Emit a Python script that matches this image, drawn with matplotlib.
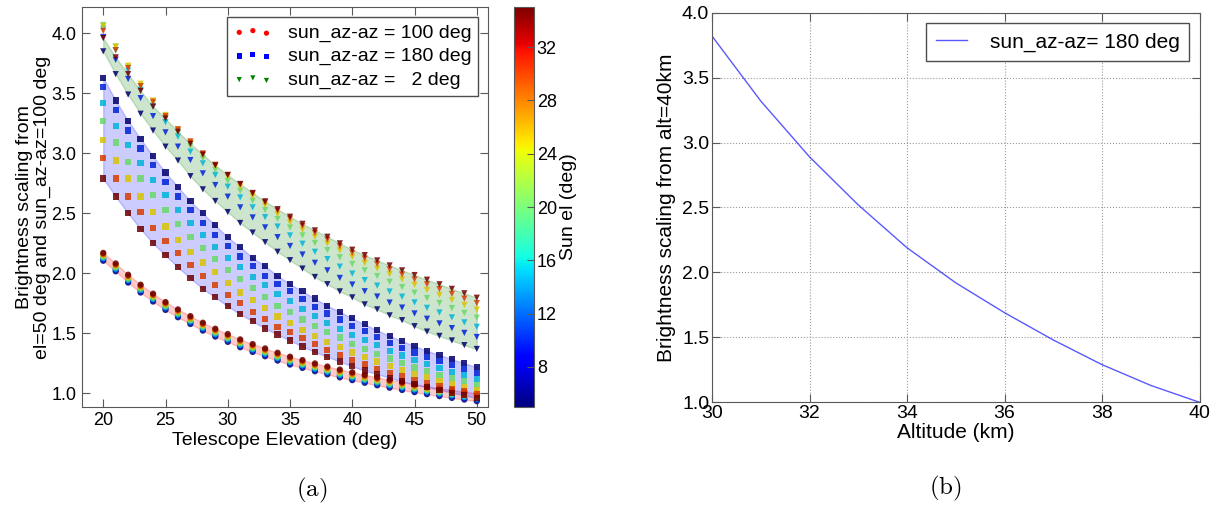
import numpy as np
import matplotlib
matplotlib.use('Agg')
import matplotlib.pyplot as plt
from matplotlib.cm import ScalarMappable
from matplotlib.colors import Normalize, ListedColormap

plt.rcParams['font.family'] = ['Liberation Sans', 'DejaVu Sans']
plt.rcParams['mathtext.fontset'] = 'cm'

# ---------------- data ----------------
tel_el = list(range(20, 51))
sun_el = [5, 10, 15, 20, 25, 30, 35]

# sun_az-az = 100 deg (circles)
az100_el05 = [2.105, 2.017, 1.923, 1.840, 1.765, 1.695, 1.634, 1.578, 1.523, 1.473, 1.429, 1.384, 1.345, 1.309, 1.273, 1.240, 1.212, 1.184, 1.158, 1.133, 1.110, 1.088, 1.067, 1.047, 1.028, 1.010, 0.993, 0.977, 0.962, 0.948, 0.935]
az100_el10 = [2.116, 2.028, 1.934, 1.851, 1.776, 1.706, 1.645, 1.589, 1.534, 1.484, 1.440, 1.395, 1.356, 1.320, 1.284, 1.251, 1.223, 1.195, 1.169, 1.144, 1.121, 1.099, 1.078, 1.058, 1.039, 1.021, 1.004, 0.988, 0.973, 0.959, 0.946]
az100_el15 = [2.127, 2.039, 1.945, 1.862, 1.787, 1.717, 1.656, 1.600, 1.545, 1.495, 1.451, 1.406, 1.367, 1.331, 1.295, 1.262, 1.234, 1.206, 1.180, 1.155, 1.132, 1.110, 1.089, 1.069, 1.050, 1.032, 1.015, 0.999, 0.984, 0.970, 0.957]
az100_el20 = [2.138, 2.050, 1.956, 1.873, 1.798, 1.728, 1.667, 1.611, 1.556, 1.506, 1.462, 1.417, 1.378, 1.342, 1.306, 1.273, 1.245, 1.217, 1.191, 1.166, 1.143, 1.121, 1.100, 1.080, 1.061, 1.043, 1.026, 1.010, 0.995, 0.981, 0.968]
az100_el25 = [2.149, 2.061, 1.967, 1.884, 1.809, 1.739, 1.678, 1.622, 1.567, 1.517, 1.473, 1.428, 1.389, 1.353, 1.317, 1.284, 1.256, 1.228, 1.202, 1.177, 1.154, 1.132, 1.111, 1.091, 1.072, 1.054, 1.037, 1.021, 1.006, 0.992, 0.979]
az100_el30 = [2.160, 2.072, 1.978, 1.895, 1.820, 1.750, 1.689, 1.633, 1.578, 1.528, 1.484, 1.439, 1.400, 1.364, 1.328, 1.295, 1.267, 1.239, 1.213, 1.188, 1.165, 1.143, 1.122, 1.102, 1.083, 1.065, 1.048, 1.032, 1.017, 1.003, 0.990]
az100_el35 = [2.171, 2.083, 1.989, 1.906, 1.831, 1.761, 1.700, 1.644, 1.589, 1.539, 1.495, 1.450, 1.411, 1.375, 1.339, 1.306, 1.278, 1.250, 1.224, 1.199, 1.176, 1.154, 1.133, 1.113, 1.094, 1.076, 1.059, 1.043, 1.028, 1.014, 1.001]

# sun_az-az = 180 deg (squares)
az180_el05 = [3.63, 3.44, 3.27, 3.12, 2.975, 2.84, 2.72, 2.60, 2.50, 2.40, 2.30, 2.22, 2.13, 2.06, 1.98, 1.91, 1.85, 1.79, 1.73, 1.68, 1.625, 1.575, 1.525, 1.48, 1.435, 1.395, 1.355, 1.32, 1.285, 1.25, 1.22]
az180_el10 = [3.55, 3.36, 3.19, 3.04, 2.90, 2.76, 2.64, 2.525, 2.42, 2.32, 2.23, 2.14, 2.06, 1.98, 1.91, 1.855, 1.785, 1.72, 1.665, 1.615, 1.56, 1.52, 1.47, 1.42, 1.38, 1.34, 1.305, 1.27, 1.235, 1.205, 1.17]
az180_el15 = [3.42, 3.23, 3.07, 2.92, 2.78, 2.65, 2.53, 2.42, 2.32, 2.22, 2.13, 2.05, 1.97, 1.90, 1.825, 1.77, 1.70, 1.645, 1.585, 1.535, 1.485, 1.445, 1.40, 1.355, 1.315, 1.28, 1.245, 1.21, 1.18, 1.15, 1.12]
az180_el20 = [3.27, 3.09, 2.93, 2.79, 2.65, 2.525, 2.41, 2.30, 2.21, 2.12, 2.03, 1.95, 1.875, 1.80, 1.73, 1.675, 1.615, 1.56, 1.51, 1.465, 1.41, 1.37, 1.33, 1.29, 1.255, 1.215, 1.185, 1.155, 1.125, 1.10, 1.07]
az180_el25 = [3.11, 2.94, 2.79, 2.64, 2.51, 2.39, 2.28, 2.18, 2.09, 2.01, 1.92, 1.84, 1.775, 1.71, 1.64, 1.585, 1.53, 1.48, 1.43, 1.385, 1.34, 1.305, 1.265, 1.23, 1.195, 1.16, 1.135, 1.105, 1.08, 1.055, 1.025]
az180_el30 = [2.96, 2.79, 2.64, 2.51, 2.38, 2.27, 2.17, 2.07, 1.98, 1.90, 1.82, 1.75, 1.68, 1.62, 1.55, 1.51, 1.46, 1.41, 1.36, 1.32, 1.275, 1.24, 1.205, 1.17, 1.14, 1.11, 1.085, 1.06, 1.035, 1.015, 0.99]
az180_el35 = [2.79, 2.64, 2.50, 2.37, 2.25, 2.15, 2.05, 1.96, 1.87, 1.80, 1.725, 1.66, 1.60, 1.54, 1.49, 1.44, 1.39, 1.345, 1.305, 1.265, 1.225, 1.19, 1.16, 1.13, 1.10, 1.075, 1.05, 1.03, 1.005, 0.985, 0.96]

# sun_az-az = 2 deg (triangles)
az002_el05 = [3.85, 3.66, 3.49, 3.33, 3.19, 3.056, 2.94, 2.81, 2.70, 2.603, 2.511, 2.42, 2.34, 2.26, 2.18, 2.11, 2.04, 1.97, 1.91, 1.85, 1.80, 1.742, 1.70, 1.65, 1.61, 1.56, 1.515, 1.479, 1.441, 1.402, 1.37]
az002_el10 = [3.97, 3.78, 3.62, 3.46, 3.31, 3.175, 3.056, 2.944, 2.833, 2.736, 2.639, 2.55, 2.466, 2.383, 2.302, 2.228, 2.157, 2.088, 2.025, 1.962, 1.907, 1.851, 1.807, 1.757, 1.715, 1.666, 1.622, 1.583, 1.544, 1.504, 1.47]
az002_el15 = [4.04, 3.86, 3.69, 3.53, 3.39, 3.26, 3.14, 3.014, 2.917, 2.82, 2.722, 2.633, 2.55, 2.469, 2.39, 2.316, 2.247, 2.18, 2.119, 2.056, 1.998, 1.944, 1.898, 1.849, 1.806, 1.758, 1.713, 1.674, 1.633, 1.592, 1.555]
az002_el20 = [4.07, 3.89, 3.72, 3.56, 3.42, 3.30, 3.17, 3.06, 2.958, 2.861, 2.77, 2.687, 2.605, 2.527, 2.453, 2.382, 2.316, 2.253, 2.194, 2.134, 2.078, 2.025, 1.978, 1.93, 1.886, 1.839, 1.794, 1.753, 1.711, 1.67, 1.631]
az002_el25 = [4.06, 3.89, 3.73, 3.58, 3.44, 3.32, 3.20, 3.09, 2.986, 2.889, 2.803, 2.722, 2.642, 2.566, 2.494, 2.425, 2.363, 2.304, 2.249, 2.192, 2.137, 2.087, 2.04, 1.994, 1.95, 1.905, 1.861, 1.82, 1.778, 1.737, 1.698]
az002_el30 = [4.02, 3.86, 3.71, 3.56, 3.43, 3.31, 3.20, 3.10, 3.00, 2.905, 2.82, 2.742, 2.664, 2.591, 2.522, 2.456, 2.395, 2.337, 2.282, 2.226, 2.171, 2.124, 2.078, 2.034, 1.991, 1.95, 1.909, 1.869, 1.829, 1.79, 1.752]
az002_el35 = [3.96, 3.80, 3.66, 3.52, 3.39, 3.29, 3.18, 3.08, 2.99, 2.90, 2.82, 2.745, 2.67, 2.60, 2.535, 2.472, 2.413, 2.358, 2.305, 2.25, 2.197, 2.152, 2.108, 2.066, 2.025, 1.986, 1.947, 1.909, 1.871, 1.834, 1.797]

series_labels = ['sun_az-az = 100 deg', 'sun_az-az = 180 deg', 'sun_az-az =   2 deg']

# right panel
altitude = [30, 31, 32, 33, 34, 35, 36, 37, 38, 39, 40]
alt_scaling = [3.82, 3.32, 2.89, 2.52, 2.19, 1.92, 1.69, 1.48, 1.29, 1.13, 1.00]
right_label = 'sun_az-az= 180 deg'

# ---------------- figure ----------------
W, H = 1221, 508
fig = plt.figure(figsize=(W / 100, H / 100), dpi=100)


def px_axes(l, t, r, b):
    return fig.add_axes([l / W, 1 - b / H, (r - l) / W, (b - t) / H])


spine_col = '0.35'

ax = px_axes(81.7, 7.3, 488, 406.7)
cax = px_axes(514, 7.3, 534, 406.7)
ax2 = px_axes(712, 12.7, 1199.5, 402.3)

norm = Normalize(vmin=5, vmax=35)
jet = plt.get_cmap('jet')
jet_rgb = jet(np.linspace(0, 1, 256))
jet_rgb[:, :3] *= 0.85
marker_cmap = ListedColormap(jet_rgb)

groups = [
    ([az100_el05, az100_el10, az100_el15, az100_el20, az100_el25, az100_el30, az100_el35], 'o', 'r', 'red'),
    ([az180_el05, az180_el10, az180_el15, az180_el20, az180_el25, az180_el30, az180_el35], 's', 'b', 'blue'),
    ([az002_el05, az002_el10, az002_el15, az002_el20, az002_el25, az002_el30, az002_el35], 'v', 'g', 'green'),
]
handles = []
for vals, mk, fillc, legc in groups:
    ax.fill_between(tel_el, vals[0], vals[-1], facecolor=fillc, edgecolor=fillc,
                    alpha=0.2, lw=1.0, zorder=1)
for vals, mk, fillc, legc in groups:
    X = np.tile(tel_el, len(sun_el))
    Y = np.concatenate([np.asarray(v) for v in vals])
    C = np.repeat(sun_el, len(tel_el))
    ax.scatter(X, Y, c=C, cmap=marker_cmap, norm=norm, marker=mk, s=20, alpha=0.85,
               edgecolors='none', zorder=2)
    handles.append(ax.scatter([], [], color=legc, marker=mk, s=14, edgecolors='none'))

ax.set_xlim(18.27, 50.9)
ax.set_ylim(0.889, 4.217)
ax.set_xticks([20, 25, 30, 35, 40, 45, 50])
ax.set_yticks([1.0, 1.5, 2.0, 2.5, 3.0, 3.5, 4.0])
ax.set_yticklabels(['1.0', '1.5', '2.0', '2.5', '3.0', '3.5', '4.0'])
ax.tick_params(direction='in', top=True, right=True, length=6, width=0.8,
               color=spine_col, labelsize=13, pad=4)
for s in ax.spines.values():
    s.set_color(spine_col)
ax.set_xlabel('Telescope Elevation (deg)', fontsize=14, labelpad=2)
ax.set_ylabel('Brightness scaling from\nel=50 deg and sun_az-az=100 deg', fontsize=14,
              labelpad=0, linespacing=1.1)
leg = ax.legend(handles, series_labels, loc='upper right', fontsize=14, scatterpoints=3,
                fancybox=False, framealpha=1, edgecolor='0.3', labelspacing=0.3,
                borderpad=0.35, handletextpad=0.8, handlelength=2.0)
leg.get_frame().set_linewidth(1.0)

sm = ScalarMappable(norm=norm, cmap=jet)
cb = fig.colorbar(sm, cax=cax, ticks=[8, 12, 16, 20, 24, 28, 32])
cb.outline.set_edgecolor(spine_col)
cb.ax.tick_params(direction='in', length=5, color=spine_col, labelsize=13, pad=2)
cb.set_label('Sun el (deg)', fontsize=14, labelpad=2)

# right panel
ax2.plot(altitude, alt_scaling, color='b', lw=1.0, alpha=0.65, label=right_label)
ax2.set_xlim(30, 40)
ax2.set_ylim(1.0, 4.0)
ax2.set_xticks([30, 32, 34, 36, 38, 40])
ax2.set_yticks([1.0, 1.5, 2.0, 2.5, 3.0, 3.5, 4.0])
ax2.set_yticklabels(['1.0', '1.5', '2.0', '2.5', '3.0', '3.5', '4.0'])
ax2.grid(True, linestyle=':', color='0.6', lw=0.8)
ax2.tick_params(direction='in', top=True, right=True, length=6, width=0.8,
                color=spine_col, labelsize=14, pad=2)
for s in ax2.spines.values():
    s.set_color(spine_col)
ax2.set_xlabel('Altitude (km)', fontsize=15, labelpad=1)
ax2.set_ylabel('Brightness scaling from alt=40km', fontsize=15, labelpad=4)
leg2 = ax2.legend(loc='upper right', fontsize=15, fancybox=False, framealpha=1,
                  edgecolor='0.3', handlelength=1.5, handletextpad=1.1, borderpad=0.45)
leg2.get_frame().set_linewidth(1.0)

fig.text(311.7 / W, 1 - 490 / H, r'$\mathrm{(a)}$', fontsize=18, ha='center', va='center')
fig.text(945 / W, 1 - 488 / H, r'$\mathrm{(b)}$', fontsize=18, ha='center', va='center')

fig.savefig('out.png', dpi=100)
